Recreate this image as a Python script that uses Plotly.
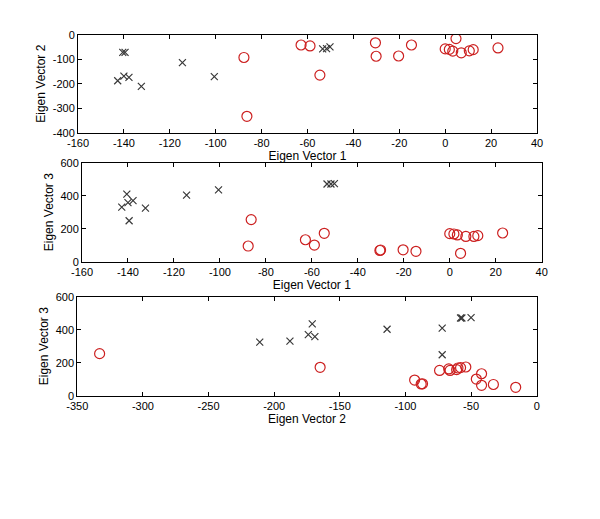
import plotly.graph_objects as go
from plotly.subplots import make_subplots

# cluster 1 (crosses)
ev1_x = [-140.5, -139.5, -142.7, -140.0, -137.8, -132.4, -114.5, -100.6, -53.4, -51.7, -50.2]
ev2_x = [-72, -72, -188, -169, -174, -211, -114, -171, -58, -57, -50]
ev3_x = [410, 248, 331, 358, 370, 325, 403, 435, 471, 471, 473]

# cluster 2 (circles)
ev1_o = [-87.7, -86.4, -62.8, -58.9, -54.6, -30.4, -30.1, -20.3, -14.7, 0.0, 1.8, 3.3, 4.7, 7.0, 10.5, 12.2, 23.0]
ev2_o = [-93, -333, -42, -46, -165, -33, -88, -87, -42, -58, -60, -67, -16, -74, -66, -61, -54]
ev3_o = [95, 255, 133, 101, 172, 68, 71, 72, 63, 170, 168, 162, 51, 153, 153, 158, 174]

# tick values per panel
ev1_ticks = [-160, -140, -120, -100, -80, -60, -40, -20, 0, 20, 40]
ev2_ticks_long = [-350, -300, -250, -200, -150, -100, -50, 0]
ev2_ticks_short = [-400, -300, -200, -100, 0]
ev3_ticks = [0, 200, 400, 600]

W, H = 600, 519
OFF = 8  # page body margin
boxes = [  # left, right, top, bottom in px on the screenshot
    (78, 537, 34.7, 132.7),
    (82, 541.7, 162.7, 261.7),
    (77.3, 536.7, 296.7, 395.7),
]

fig = make_subplots(rows=3, cols=1)

pairs = [
    (ev1_x, ev2_x, ev1_o, ev2_o),
    (ev1_x, ev3_x, ev1_o, ev3_o),
    (ev2_x, ev3_x, ev2_o, ev3_o),
]
for i, (xa, ya, xb, yb) in enumerate(pairs, start=1):
    fig.add_trace(go.Scatter(x=xa, y=ya, mode="markers",
                             marker=dict(symbol="x-thin-open", size=7, color="#3a3a3a",
                                         line=dict(color="#3a3a3a", width=1.2)),
                             showlegend=False), row=i, col=1)
    fig.add_trace(go.Scatter(x=xb, y=yb, mode="markers",
                             marker=dict(symbol="circle-open", size=10,
                                         color="#cc2020", line=dict(width=1.2)),
                             showlegend=False), row=i, col=1)

font = dict(family="Liberation Sans, Arial", size=11, color="black")
axis_style = dict(showline=True, linecolor="black", linewidth=1, mirror="ticks",
                  ticks="inside", ticklen=4, tickcolor="black", showgrid=False,
                  zeroline=False, automargin=False, tickfont=font,
                  title_font=dict(family="Liberation Sans, Arial", size=12, color="black"))


def labels(vals):
    return [str(v) for v in vals]


xr = [[-160, 40], [-160, 40], [-350, 0]]
yr = [[-400, 0], [0, 600], [0, 600]]
xtv = [ev1_ticks, ev1_ticks, ev2_ticks_long]
ytv = [ev2_ticks_short, ev3_ticks, ev3_ticks]
xt = ["Eigen Vector 1", "Eigen Vector 1", "Eigen Vector 2"]
yt = ["Eigen Vector 2", "Eigen Vector 3", "Eigen Vector 3"]

for i in range(3):
    l, r, t, b = [v - OFF for v in boxes[i]]
    fig.update_xaxes(axis_style, range=xr[i], tickvals=xtv[i], ticktext=labels(xtv[i]),
                     domain=[l / W, r / W],
                     title=dict(text=xt[i], standoff=0), row=i + 1, col=1)
    fig.update_yaxes(axis_style, range=yr[i], tickvals=ytv[i], ticktext=labels(ytv[i]),
                     domain=[1 - b / H, 1 - t / H],
                     title=dict(text=yt[i], standoff=4), row=i + 1, col=1)

fig.update_layout(width=W, height=H, margin=dict(l=0, r=0, t=0, b=0),
                  plot_bgcolor="white", paper_bgcolor="white")

fig.write_html("out.html")
